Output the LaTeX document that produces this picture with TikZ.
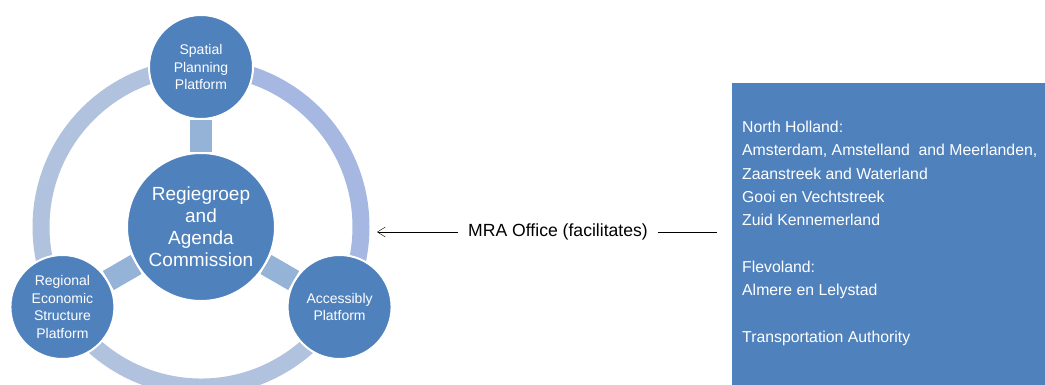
\documentclass[tikz,border=0pt]{standalone}
\usepackage{fontspec}
\setmainfont{Liberation Sans}
\usetikzlibrary{arrows.meta,backgrounds}

\definecolor{mraBlue}{HTML}{4F81BD}
\definecolor{ringGrey}{HTML}{B0C2DD}
\definecolor{ringLilac}{HTML}{A6B8E1}
\definecolor{spokeBlue}{HTML}{95B3D7}

\begin{document}
\begin{tikzpicture}[x=1pt, y=1pt,
    platform/.style={circle, fill=mraBlue, draw=white, line width=2pt,
      text=white, align=center, inner sep=0pt, minimum size=104pt,
      font=\fontsize{14}{17.5}\selectfont},
    core/.style={platform, minimum size=148pt, font=\fontsize{19}{22}\selectfont},
    ring/.style={line width=17pt},
    spoke/.style={spokeBlue, line width=22pt}]
  \useasboundingbox (0,0) rectangle (1045,384);

  % hub and the three platforms around it
  \node[core] (hub) at (201,157) {Regiegroep\\and\\Agenda\\Commission};
  \node[platform] (spatial) at ([shift={(90:160)}]hub) {Spatial\\Planning\\Platform};
  \node[platform] (economic) at ([shift={(210:160)}]hub) {Regional\\Economic\\Structure\\Platform};
  \node[platform] (access) at ([shift={(330:160)}]hub) {Accessibly\\Platform};

  \begin{scope}[on background layer]
    \draw[ring, ringLilac] (spatial.center) arc[start angle=90, end angle=-30, radius=160];
    \draw[ring, ringGrey] (spatial.center) arc[start angle=90, end angle=210, radius=160];
    \draw[ring, ringGrey] (economic.center) arc[start angle=210, end angle=330, radius=160];
    \foreach \p in {spatial, economic, access}
      \draw[spoke] (hub) -- (\p);
  \end{scope}

  % member regions
  \node[fill=mraBlue, anchor=north west, inner sep=0pt,
    minimum width=330pt, minimum height=320pt] (region) at (732,301) {};
  \node[anchor=north west, inner sep=0pt, align=left, text=white,
    font=\fontsize{15.8}{23.3}\selectfont] (members) at (742,263)
    {North Holland:\\
     Amsterdam, Amstelland\ \ and Meerlanden,\\
     Zaanstreek and Waterland\\
     Gooi en Vechtstreek\\
     Zuid Kennemerland\\
     ~\\
     Flevoland:\\
     Almere en Lelystad\\
     ~\\
     Transportation Authority};

  \node[font=\fontsize{17.6}{20}\selectfont, inner sep=4pt, outer sep=6pt]
    (mra) at (558,152) {MRA Office (facilitates)};
  \coordinate (tip) at (377,152);
  \coordinate (boxin) at (717,152);
  \draw[-{Straight Barb[length=8pt,width=10pt]}] (mra.west) -- (tip);
  \draw (mra.east) -- (boxin);
\end{tikzpicture}
\end{document}
